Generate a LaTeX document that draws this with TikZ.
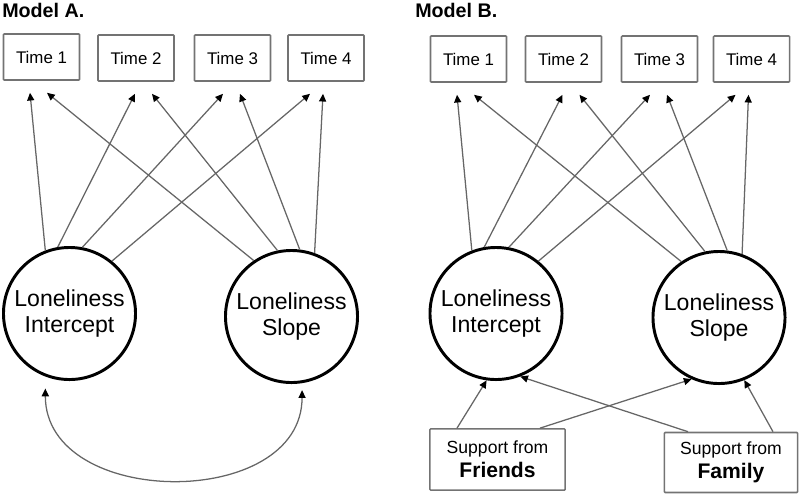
\documentclass[tikz,border=0pt]{standalone}
\usepackage{fontspec}
\setmainfont{Liberation Sans}
\usetikzlibrary{
    arrows.meta,
    calc,
    positioning
}
\tikzset{
    % Colors
    path color/.style={black!60},
    box color/.style={black!55},
    %
    % Nodes
    time box/.style={draw,box color,line width=1.1pt,text=black,rounded corners=0.6pt,
        minimum width=1.9cm,minimum height=1.15cm,inner sep=0pt,font=\fontsize{12}{14}\selectfont},
    support box/.style={time box,minimum width=3.38cm,minimum height=1.53cm,align=center,
        font=\fontsize{12.5}{17}\selectfont},
    latent/.style={circle,draw,line width=2.1pt,minimum size=3.3cm,inner sep=0pt,align=center,
        font=\fontsize{16.4}{18.5}\selectfont},
    title/.style={anchor=west,inner sep=0pt,font=\bfseries\fontsize{14}{16}\selectfont},
    %
    % Arrows
    arrow tip/.tip={Triangle[length=5.5pt,width=5pt,color=black]},
    arr/.style={path color,line width=0.9pt,->,>={arrow tip}},
    darr/.style={path color,line width=0.9pt,<->,>={arrow tip}}
}

\begin{document}
\begin{tikzpicture}[x=0.025cm,y=-0.025cm]
    \useasboundingbox (0,0) rectangle (800,496);
    % Model A
    \node[title] (a-title) at (2,10) {Model A.};
    \node[time box] (a1) at (41.5,57) {Time 1};
    \node[time box] (a2) at (136,58) {Time 2};
    \node[time box] (a3) at (232.5,58) {Time 3};
    \node[time box] (a4) at (326,58) {Time 4};
    \node[latent] (a-int) at (69.5,313.5) {Loneliness\\Intercept};
    \node[latent] (a-slp) at (291.5,316.5) {Loneliness\\Slope};
    \draw[darr] ($(a-int.-111)+(0,12)$) to[out=-90,in=-90,looseness=1.2] ($(a-slp.-81)+(0,7)$);
    % Model B
    \node[title] (b-title) at (415,10) {Model B.};
    \node[time box] (b1) at (468.5,59) {Time 1};
    \node[time box] (b2) at (563.5,59) {Time 2};
    \node[time box] (b3) at (659.5,59) {Time 3};
    \node[time box] (b4) at (751.5,59) {Time 4};
    \node[latent] (b-int) at (496,313.5) {Loneliness\\Intercept};
    \node[latent] (b-slp) at (719,317.5) {Loneliness\\Slope};
    \node[support box] (b-fri) at (497.5,459.5) {Support from\\{\bfseries\fontsize{15}{17}\selectfont Friends}};
    \node[support box,minimum width=3.33cm,minimum height=1.5cm] (b-fam) at (731,462.5) {Support from\\{\bfseries\fontsize{15}{17}\selectfont Family}};
    % growth paths
    \foreach \m in {a,b}{
        \foreach \k/\l/\r/\ia/\sa in {1/-11.5/5.5/111/124, 2/-1/16/100/102, 3/-9.5/7.5/79/83, 4/-16/-3/51/70}{
            \draw[arr] (\m-int.\ia) -- ($(\m\k.south)+(\l,12)$);
            \draw[arr] (\m-slp.\sa) -- ($(\m\k.south)+(\r,12)$);
        }
    }
    % predictors
    \draw[arr] ($(b-fri.north)+(-40.5,0)$) -- (b-int.-98);
    \draw[arr] ($(b-fri.north)+(42.5,0)$) -- (b-slp.-114);
    \draw[arr] ($(b-fam.north)+(-43,0)$) -- (b-int.-69);
    \draw[arr] ($(b-fam.north)+(42,0)$) -- (b-slp.-68);
\end{tikzpicture}
\end{document}
